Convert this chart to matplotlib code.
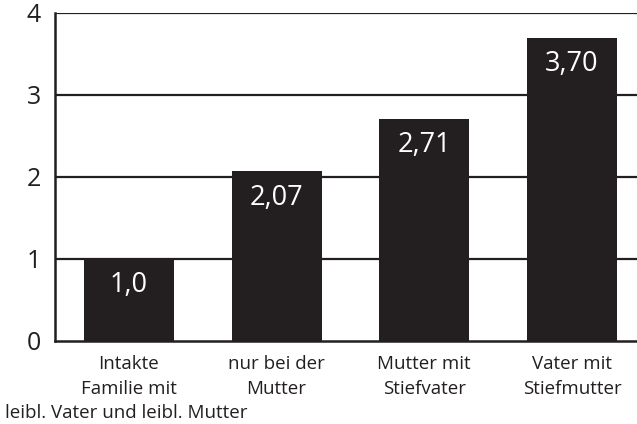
import matplotlib
matplotlib.use("Agg")
import matplotlib.pyplot as plt

plt.rcParams["font.family"] = ["Open Sans", "DejaVu Sans"]

categories = [
    "Intakte\nFamilie mit",
    "nur bei der\nMutter",
    "Mutter mit\nStiefvater",
    "Vater mit\nStiefmutter",
]
first_extra = "leibl. Vater und leibl. Mutter"
values = [1.0, 2.07, 2.71, 3.70]
value_labels = ["1,0", "2,07", "2,71", "3,70"]
yticks = [0, 1, 2, 3, 4]

ink = "#231f20"

fig = plt.figure(figsize=(6.37, 4.24), dpi=100)
ax = fig.add_axes([0.0863, 0.1958, 0.9137, 0.7736])

x = list(range(len(values)))
for y in yticks[1:]:
    ax.axhline(y, color=ink, linewidth=1.6, zorder=1)
bars = ax.bar(x, values, width=0.61, color=ink, zorder=2)

for b, lab in zip(bars, value_labels):
    ax.annotate(lab, (b.get_x() + b.get_width() / 2, b.get_height()),
                xytext=(0, -19), textcoords="offset points",
                ha="center", va="center", color="white", fontsize=19.5)

ax.set_xlim(-0.5, 3.44)
ax.set_ylim(0, 4)
ax.set_yticks(yticks)
ax.set_yticklabels([str(v) for v in yticks], fontsize=18, color=ink)
ax.set_xticks(x)
ax.set_xticklabels(categories, fontsize=13.5, color=ink, linespacing=1.5)
ax.tick_params(axis="both", length=0)
ax.tick_params(axis="y", pad=10)
ax.tick_params(axis="x", pad=10)

# third line of the first category sits below the rest
ax.annotate(first_extra, (x[0], 0), xytext=(-2, -52), textcoords="offset points",
            ha="center", va="center", fontsize=13.5, color=ink,
            annotation_clip=False)

for s in ["top", "right"]:
    ax.spines[s].set_visible(False)
for s in ["left", "bottom"]:
    ax.spines[s].set_color(ink)
    ax.spines[s].set_linewidth(1.8)
    ax.spines[s].set_zorder(3)

fig.savefig("out.png", dpi=100)
